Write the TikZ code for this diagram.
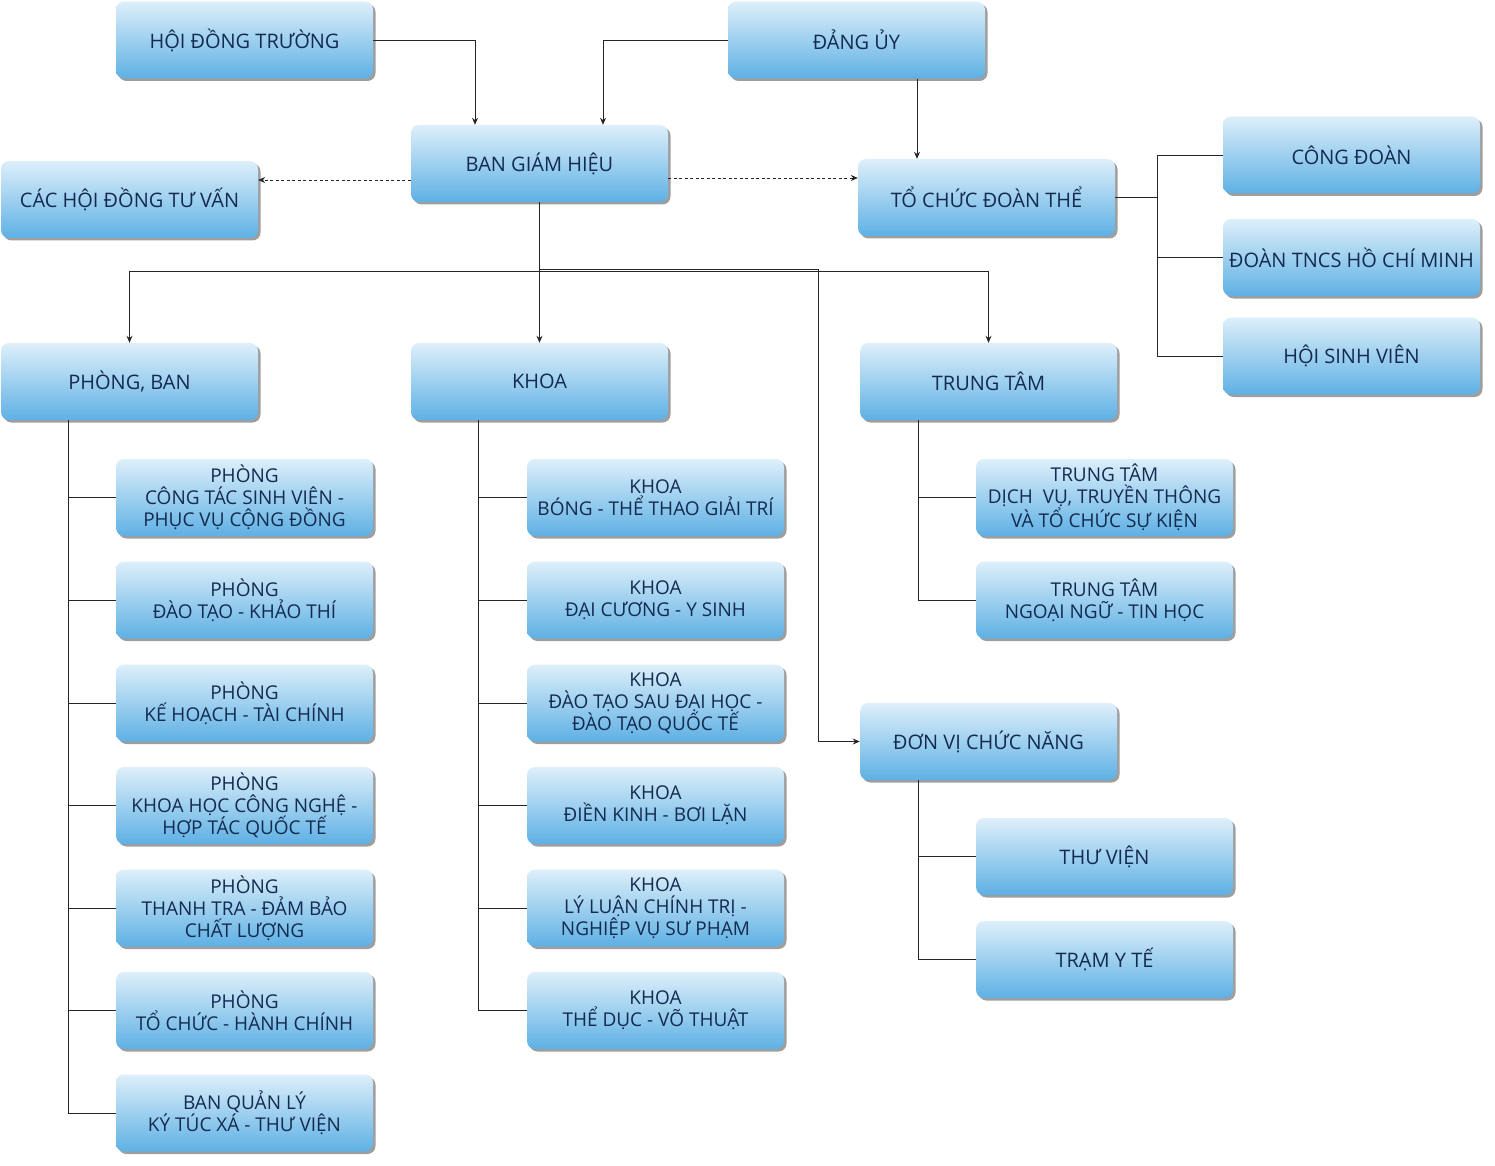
\documentclass[tikz,border=0pt]{standalone}
\usepackage{fontspec}
\setmainfont{Open Sans}
\usetikzlibrary{arrows.meta,shadows}
\definecolor{boxtop}{HTML}{DDEFFA}
\definecolor{boxbot}{HTML}{5EB0E4}
\definecolor{navy}{HTML}{142B50}
\newcommand\mybigf{\fontsize{20}{24}\selectfont}
\newcommand\mysmallf{\fontsize{19}{22}\selectfont}
\tikzset{
  box/.style={rounded corners=8pt, minimum width=257pt, minimum height=77pt,
    inner sep=2pt, align=center, top color=boxtop, bottom color=boxbot,
    drop shadow={shadow xshift=2.5pt, shadow yshift=-2.5pt, fill=black, opacity=0.38},
    text=navy, font=\mybigf},
  sbox/.style={box, font=\mysmallf},
  link/.style={line width=0.9pt, draw=black!85},
  arr/.style={link, -{Stealth[length=7pt,width=6pt]}},
  darr/.style={arr, dash pattern=on 3pt off 2.5pt}
}
\begin{document}
\begin{tikzpicture}[x=1pt,y=-1pt]
\useasboundingbox (0,0) rectangle (1495,1166);
% top level
\node[box] (hdt) at (244.5,40) {HỘI ĐỒNG TRƯỜNG};
\node[box] (du) at (856.5,40) {ĐẢNG ỦY};
\node[box] (bgh) at (539.5,163.5) {BAN GIÁM HIỆU};
\node[box] (chdtv) at (129.5,199.5) {CÁC HỘI ĐỒNG TƯ VẤN};
\node[box] (tcdt) at (986.5,197.5) {TỔ CHỨC ĐOÀN THỂ};
\node[box] (cd) at (1351.5,155) {CÔNG ĐOÀN};
\node[box] (dtn) at (1351.5,257.5) {ĐOÀN TNCS HỒ CHÍ MINH};
\node[box] (hsv) at (1351.5,356) {HỘI SINH VIÊN};
% second level
\node[box] (pb) at (129.5,381.5) {PHÒNG, BAN};
\node[box] (khoa) at (539.5,381.5) {KHOA};
\node[box] (tt) at (988.5,381.5) {TRUNG TÂM};
\node[box] (dvcn) at (988.5,741.5) {ĐƠN VỊ CHỨC NĂNG};
% phong ban children
\node[sbox] (p1) at (244.5,497.5) {PHÒNG\\CÔNG TÁC SINH VIÊN -\\PHỤC VỤ CỘNG ĐỒNG};
\node[sbox] (p2) at (244.5,600) {PHÒNG\\ĐÀO TẠO - KHẢO THÍ};
\node[sbox] (p3) at (244.5,703) {PHÒNG\\KẾ HOẠCH - TÀI CHÍNH};
\node[sbox] (p4) at (244.5,805.5) {PHÒNG\\KHOA HỌC CÔNG NGHỆ -\\HỢP TÁC QUỐC TẾ};
\node[sbox] (p5) at (244.5,908) {PHÒNG\\THANH TRA - ĐẢM BẢO\\CHẤT LƯỢNG};
\node[sbox] (p6) at (244.5,1010.5) {PHÒNG\\TỔ CHỨC - HÀNH CHÍNH};
\node[sbox] (p7) at (244.5,1113) {BAN QUẢN LÝ\\KÝ TÚC XÁ - THƯ VIỆN};
% khoa children
\node[sbox] (k1) at (655.5,497.5) {KHOA\\BÓNG - THỂ THAO GIẢI TRÍ};
\node[sbox] (k2) at (655.5,600) {KHOA\\ĐẠI CƯƠNG - Y SINH};
\node[sbox] (k3) at (655.5,703) {KHOA\\ĐÀO TẠO SAU ĐẠI HỌC -\\ĐÀO TẠO QUỐC TẾ};
\node[sbox] (k4) at (655.5,805.5) {KHOA\\ĐIỀN KINH - BƠI LẶN};
\node[sbox] (k5) at (655.5,908) {KHOA\\LÝ LUẬN CHÍNH TRỊ -\\NGHIỆP VỤ SƯ PHẠM};
\node[sbox] (k6) at (655.5,1010.5) {KHOA\\THỂ DỤC - VÕ THUẬT};
% trung tam children
\node[sbox] (t1) at (1104.5,497.5) {TRUNG TÂM\\DỊCH~ VỤ, TRUYỀN THÔNG\\VÀ TỔ CHỨC SỰ KIỆN};
\node[sbox] (t2) at (1104.5,600) {TRUNG TÂM\\NGOẠI NGỮ - TIN HỌC};
% don vi chuc nang children
\node[box] (tv) at (1104.5,856.5) {THƯ VIỆN};
\node[box] (yt) at (1104.5,959.5) {TRẠM Y TẾ};
% helper coordinates
\coordinate (cA) at (475,0);
\coordinate (cB) at (603,0);
\coordinate (cC) at (917,0);
\coordinate (cD) at (0,180);
\coordinate (cE) at (0,178);
\coordinate (cF) at (818,0);
\coordinate (cG) at (1157,0);
\coordinate (j1) at (539.5,271);
\coordinate (j2) at (539.5,269);
\coordinate (tpb) at (68,0);
\coordinate (tk) at (478,0);
\coordinate (ttt) at (918,0);
% connectors
\draw[arr] (hdt.east) -| (cA |- bgh.north);
\draw[arr] (du.west) -| (cB |- bgh.north);
\draw[arr] (cC |- du.south) -- (cC |- tcdt.north);
\draw[darr] (cD -| bgh.west) -- (cD -| chdtv.east);
\draw[darr] (cE -| bgh.east) -- (cE -| tcdt.west);
\draw[arr] (bgh.south) -- (khoa.north);
\draw[arr] (j1) -| (pb.north);
\draw[arr] (j1) -| (tt.north);
\draw[arr] (j2) -| (cF |- dvcn.west) -- (dvcn.west);
\foreach \n in {cd,dtn,hsv} \draw[link] (tcdt.east) -| (cG |- \n.west) -- (\n.west);
\foreach \n in {p1,p2,p3,p4,p5,p6,p7} \draw[link] (tpb |- pb.south) |- (\n.west);
\foreach \n in {k1,k2,k3,k4,k5,k6} \draw[link] (tk |- khoa.south) |- (\n.west);
\foreach \n in {t1,t2} \draw[link] (ttt |- tt.south) |- (\n.west);
\foreach \n in {tv,yt} \draw[link] (ttt |- dvcn.south) |- (\n.west);
\end{tikzpicture}
\end{document}
